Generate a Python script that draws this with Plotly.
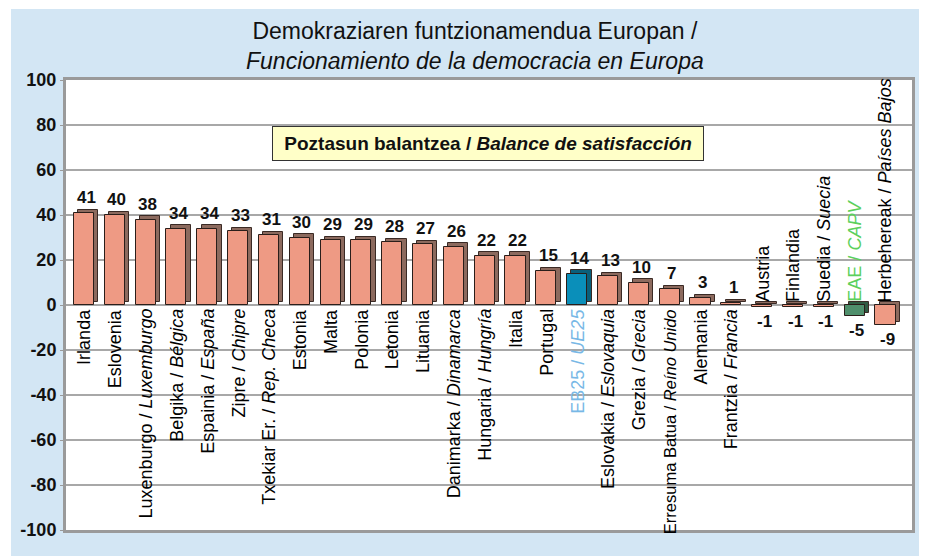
import plotly.graph_objects as go

categories = [
    "Irlanda", "Eslovenia", "Luxenburgo / <i>Luxemburgo</i>", "Belgika / <i>Bélgica</i>",
    "Espainia / <i>España</i>", "Zipre / <i>Chipre</i>", "Txekiar Er. / <i>Rep. Checa</i>",
    "Estonia", "Malta", "Polonia", "Letonia", "Lituania", "Danimarka / <i>Dinamarca</i>",
    "Hungaria / <i>Hungría</i>", "Italia", "Portugal", "EB25 / <i>UE25</i>",
    "Eslovakia / <i>Eslovaquia</i>", "Grezia / <i>Grecia</i>", "Erresuma Batua / <i>Reíno Unido</i>",
    "Alemania", "Frantzia / <i>Francia</i>", "Austria", "Finlandia", "Suedia / <i>Suecia</i>",
    "EAE / <i>CAPV</i>", "Herbehereak / <i>Países Bajos</i>",
]
values = [41, 40, 38, 34, 34, 33, 31, 30, 29, 29, 28, 27, 26, 22, 22, 15, 14, 13, 10, 7, 3, 1,
          -1, -1, -1, -5, -9]
y_ticks = [100, 80, 60, 40, 20, 0, -20, -40, -60, -80, -100]

title_line1 = "Demokraziaren funtzionamendua Europan /"
title_line2 = "<i>Funcionamiento de la democracia en Europa</i>"
box_text = "&nbsp;<b>Poztasun balantzea / <i>Balance de satisfacción</i></b>&nbsp;"

SALMON = "#EE9A84"
SALMON_SIDE = "#8C6A5E"
EB_COLOR = "#0A8FBA"
EB_SIDE = "#0A5F7A"
EAE_COLOR = "#4F8F6C"
EAE_SIDE = "#2F5A42"
EB_TEXT = "#78B8E6"
EAE_TEXT = "#5CD05C"

x = list(range(len(categories)))
face_colors = []
side_colors = []
text_colors = []
for c in categories:
    if c.startswith("EB25"):
        face_colors.append(EB_COLOR); side_colors.append(EB_SIDE); text_colors.append(EB_TEXT)
    elif c.startswith("EAE"):
        face_colors.append(EAE_COLOR); side_colors.append(EAE_SIDE); text_colors.append(EAE_TEXT)
    else:
        face_colors.append(SALMON); side_colors.append(SALMON_SIDE); text_colors.append("#000000")

BAR_W = 0.65
DEPTH_X = 0.14
DEPTH_Y = 1.4

fig = go.Figure()
# 3D side/top face
fig.add_trace(go.Bar(
    x=x, y=values, base=DEPTH_Y, width=BAR_W, offset=-BAR_W / 2 + DEPTH_X,
    marker=dict(color=side_colors, line=dict(color="#3A2A25", width=1)),
    hoverinfo="skip", showlegend=False,
))
# front face
fig.add_trace(go.Bar(
    x=x, y=values, width=BAR_W, offset=-BAR_W / 2,
    marker=dict(color=face_colors, line=dict(color="#2A1E1A", width=1)),
    showlegend=False,
))

FONT = "Liberation Sans, Arial, sans-serif"
annotations = []
for i, (c, v) in enumerate(zip(categories, values)):
    # value labels
    annotations.append(dict(
        x=i + DEPTH_X / 2, y=v, xref="x", yref="y", text=f"<b>{v}</b>", showarrow=False,
        yanchor="bottom" if v > 0 else "top", yshift=4 if v > 0 else -3,
        font=dict(size=17, color="#111111", family=FONT),
    ))
    # category labels
    size = 16.5 if c.startswith("Erresuma") else 18
    annotations.append(dict(
        x=i, y=0, xref="x", yref="y", text=c, showarrow=False, textangle=-90,
        yanchor="top" if v > 0 else "bottom", yshift=-2 if v > 0 else 1,
        font=dict(size=size, color=text_colors[i], family=FONT),
    ))

annotations.append(dict(
    x=0.499, y=71.6, xref="paper", yref="y", text=box_text, showarrow=False,
    bgcolor="#FFFFC8", bordercolor="#333333", borderwidth=1, borderpad=6,
    font=dict(size=19, color="#111111", family=FONT),
))
annotations.append(dict(
    x=0.4835, y=1.0756, xref="paper", yref="paper", text=title_line1 + "<br>" + title_line2,
    showarrow=False, yanchor="middle",
    font=dict(size=23, color="#111111", family="Liberation Sans Narrow, Arial Narrow, " + FONT),
))

shapes = [
    dict(type="rect", xref="paper", yref="paper", x0=-0.065, x1=1.05, y0=-0.1, y1=1.158,
         fillcolor="#D3E6F4", line=dict(width=0), layer="below"),
    dict(type="rect", xref="paper", yref="paper", x0=0, x1=1, y0=0, y1=1,
         fillcolor="#FFFFFF", line=dict(width=0), layer="below"),
]

fig.update_layout(
    width=919, height=548,
    margin=dict(l=57, r=14, t=72, b=26),
    paper_bgcolor="#FFFFFF", plot_bgcolor="rgba(0,0,0,0)",
    barmode="overlay", bargap=0,
    annotations=annotations, shapes=shapes,
    font=dict(family=FONT),
    xaxis=dict(range=[-0.58, 26.86], showticklabels=False, showgrid=False, zeroline=False,
               showline=True, mirror=True, linecolor="#9A9A9A", linewidth=3, ticks=""),
    yaxis=dict(range=[-100, 100], tickvals=y_ticks, ticktext=[str(t) for t in y_ticks],
               showgrid=True, gridcolor="#A8A8A8", gridwidth=2,
               zeroline=True, zerolinecolor="#A8A8A8", zerolinewidth=2,
               showline=True, mirror=True, linecolor="#9A9A9A", linewidth=3,
               ticks="outside", ticklen=3, tickcolor="#9A9A9A",
               tickfont=dict(size=18, color="#111111", family=FONT, weight="bold")),
)

fig.write_html("out.html")
